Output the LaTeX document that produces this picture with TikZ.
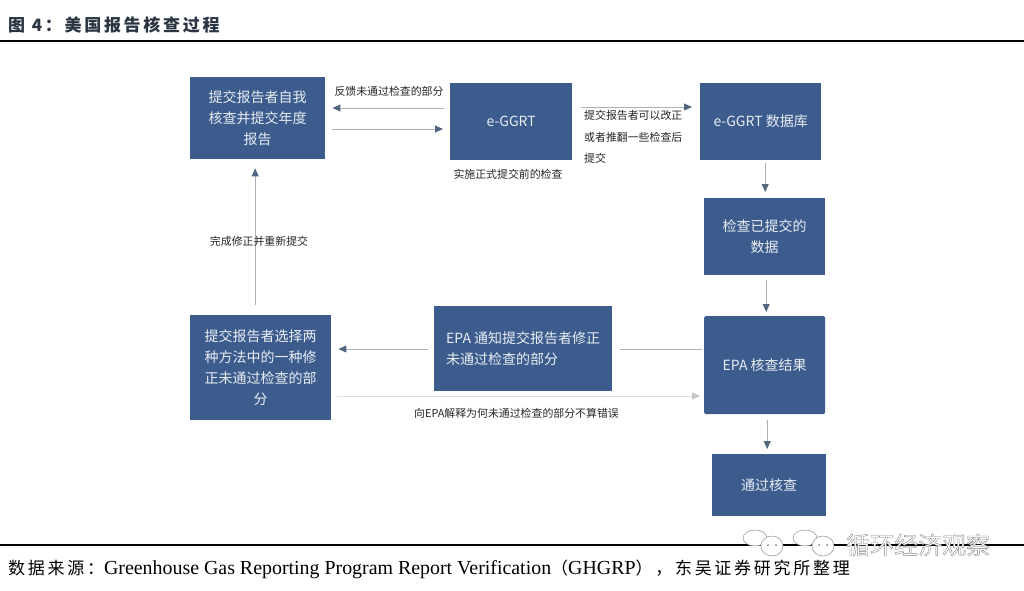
\documentclass[tikz,border=0pt]{standalone}
\usepackage{fontspec}
\setmainfont{Noto Sans CJK SC}
\newfontfamily\titlefont[LetterSpace=16]{Noto Sans CJK SC}
\newfontfamily\footfont[LetterSpace=16]{Noto Sans CJK SC}
\newfontfamily\latinfont{Liberation Serif}
\usetikzlibrary{arrows.meta}
\definecolor{boxblue}{HTML}{3C5C8D}
\definecolor{linegray}{HTML}{A9B0BA}
\definecolor{headgray}{HTML}{52677E}
\definecolor{boxtext}{HTML}{E9EDF3}
\definecolor{titleink}{HTML}{2B3442}
\tikzset{
  x=1pt,y=-1pt,
  flowbox/.style={fill=boxblue,draw=none,text=boxtext,inner sep=0pt,align=center,
    font=\fontsize{14}{21}\selectfont,anchor=north west},
  note/.style={inner sep=0pt,text=black!85,font=\fontsize{10.9}{21.5}\selectfont},
  flow/.style={draw=linegray,line width=0.9pt,-{Triangle[length=8pt,width=7pt,color=headgray]}},
  bare/.style={draw=linegray,line width=0.9pt},
  paleflow/.style={draw=black!12,line width=0.8pt,-{Triangle[length=8pt,width=7pt,color=black!22]}},
  rulebar/.style={draw=black,line width=2pt},
}
\newcommand{\lat}[1]{{\latinfont\fontsize{19.9}{20}\selectfont #1}}
\begin{document}
\begin{tikzpicture}
\useasboundingbox (0,0) rectangle (1024,590);
\fill[white] (0,0) rectangle (1024,590);
% header and footer
\node[anchor=west,inner sep=0pt,text=titleink,font=\titlefont\bfseries\fontsize{17}{20}\selectfont] (title) at (8,25) {图 4：美国报告核查过程};
\coordinate (r1a) at (0,41); \coordinate (r1b) at (1024,41);
\draw[rulebar] (r1a) -- (r1b);
\coordinate (r2a) at (0,545); \coordinate (r2b) at (1024,545);
\draw[rulebar] (r2a) -- (r2b);
\node[anchor=west,inner sep=0pt,text=black,font=\footfont\fontsize{17}{20}\selectfont] (source) at (8,569.5)
  {数据来源：\lat{Greenhouse Gas Reporting Program Report Verification}（\lat{GHGRP}），东吴证券研究所整理};
% boxes
\node[flowbox,minimum width=135pt,minimum height=82pt] (A) at (190,77) {提交报告者自我\\核查并提交年度\\报告};
\node[flowbox,minimum width=122pt,minimum height=77pt] (B) at (450,83) {e-GGRT};
\node[flowbox,minimum width=121pt,minimum height=77pt] (C) at (700,83) {e-GGRT 数据库};
\node[flowbox,minimum width=121pt,minimum height=77pt] (D) at (704,198) {检查已提交的\\数据};
\node[flowbox,minimum width=121pt,minimum height=98pt,rounded corners=1.5pt] (E) at (704,316) {EPA 核查结果};
\node[flowbox,minimum width=114pt,minimum height=62pt] (F) at (712,454) {通过核查};
\node[flowbox,minimum width=178pt,minimum height=85pt,align=left] (G) at (434,306) {EPA 通知提交报告者修正\\未通过检查的部分};
\node[flowbox,minimum width=141pt,minimum height=105pt] (H) at (190,315) {提交报告者选择两\\种方法中的一种修\\正未通过检查的部\\分};
% connectors
\draw[flow,shorten <=6pt,shorten >=7pt] ([yshift=-25pt]B.north west) -- ([yshift=-31pt]A.north east);
\draw[flow,shorten <=7pt,shorten >=7pt] ([yshift=-52pt]A.north east) -- ([yshift=-46pt]B.north west);
\draw[flow,shorten <=9pt,shorten >=8pt] ([yshift=-24pt]B.north east) -- ([yshift=-24pt]C.north west);
\draw[flow,shorten <=3pt,shorten >=6pt] ([xshift=4.5pt]C.south) -- ([xshift=4.5pt]C.south |- D.north);
\draw[flow,shorten <=5pt,shorten >=4pt] ([xshift=1.5pt]D.south) -- ([xshift=1.5pt]D.south |- E.north);
\draw[flow,shorten <=6pt,shorten >=5pt] ([xshift=2.5pt]E.south) -- ([xshift=2.5pt]E.south |- F.north);
\draw[bare,shorten <=2pt,shorten >=8pt] ([yshift=-33pt]E.north west) -- ([yshift=-43pt]G.north east);
\draw[flow,shorten <=6pt,shorten >=7pt] ([yshift=-43pt]G.north west) -- ([yshift=-34pt]H.north east);
\draw[paleflow,shorten <=6pt,shorten >=4pt] ([yshift=-81pt]H.north east) -- ([yshift=-80pt]E.north west);
\draw[flow,shorten <=10pt,shorten >=9pt] ([xshift=-5.5pt]H.north) -- ([xshift=-2.5pt]A.south);
% labels
\node[note,anchor=center] (n1) at (389,91) {反馈未通过检查的部分};
\node[note,anchor=center] (n2) at (508,174) {实施正式提交前的检查};
\node[note,anchor=north west,align=left] (n3) at (584,110.5) {提交报告者可以改正\\或者推翻一些检查后\\提交};
\node[note,anchor=center] (n4) at (259,241) {完成修正并重新提交};
\node[note,anchor=center] (n5) at (516.5,413) {向EPA解释为何未通过检查的部分不算错误};
% watermark
\begin{scope}[draw=black!45,fill=white,line width=0.5pt]
  \filldraw (755,538) ellipse (12pt and 8pt);
  \filldraw (772,546) ellipse (11pt and 10pt);
  \filldraw (805,538) ellipse (12pt and 8pt);
  \filldraw (823,546) ellipse (11pt and 10pt);
  \fill[black!50] (768,545) circle (1pt) (776,545) circle (1pt) (819,545) circle (1pt) (827,545) circle (1pt);
\end{scope}
\node[anchor=west,inner sep=0pt,font=\fontsize{24}{25}\selectfont] (mark) at (846,545)
  {\special{pdf:code 2 Tr 0.35 w 0.5 0.5 0.5 RG 1 1 1 rg}循环经济观察\special{pdf:code 0 Tr}};
\end{tikzpicture}
\end{document}
